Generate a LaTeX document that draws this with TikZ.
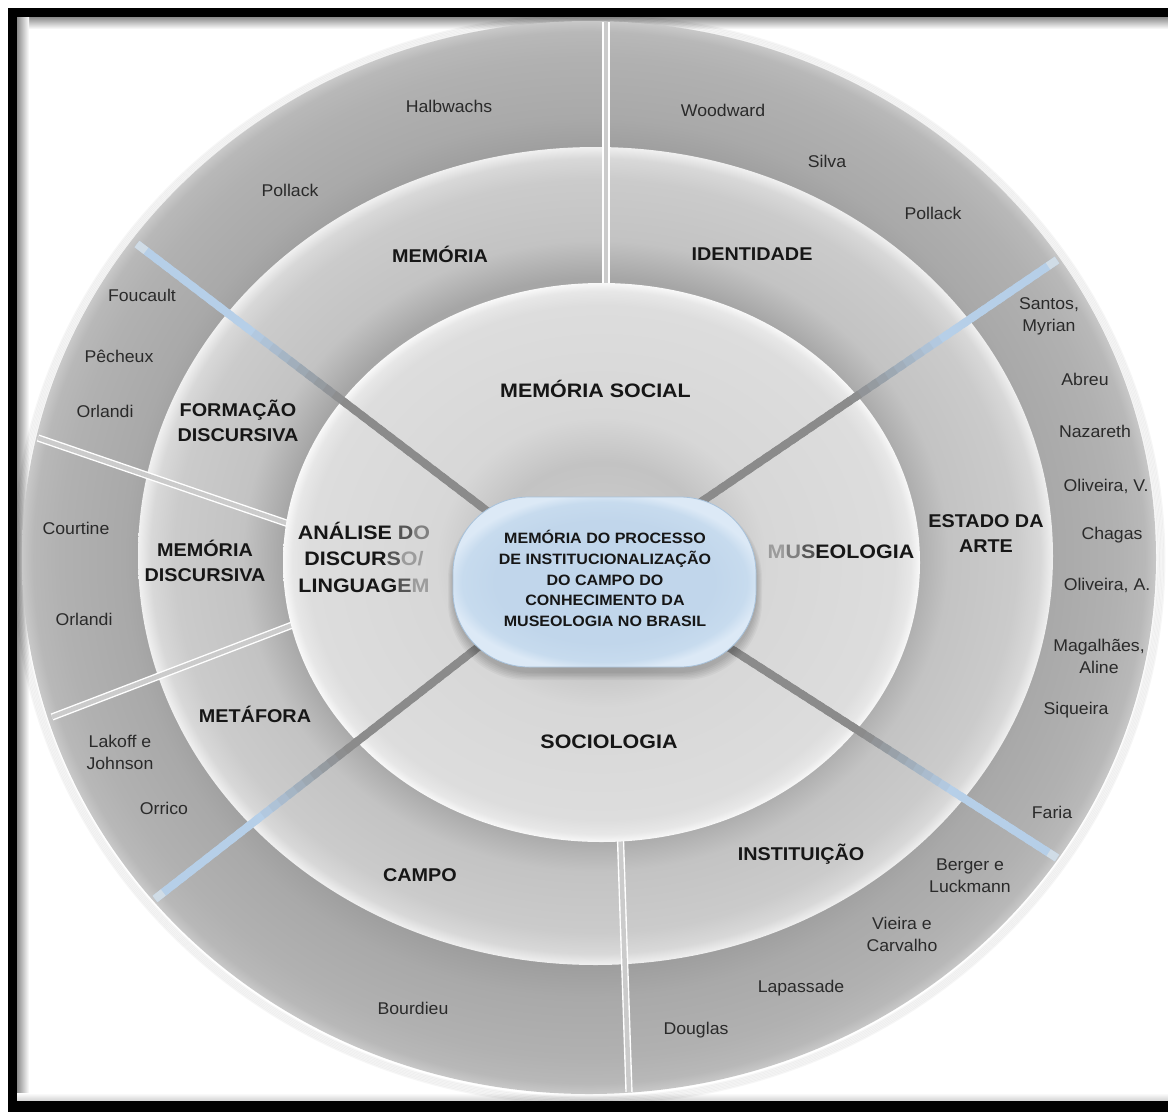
\documentclass[tikz,border=0pt]{standalone}
\usepackage{fontspec}
\setmainfont{Liberation Sans}
\usetikzlibrary{calc}

% text
\definecolor{txt}{HTML}{161616}
\definecolor{nametxt}{HTML}{2A2A2A}
\definecolor{fadeLight}{HTML}{9C9C9C}
\definecolor{fadeMid}{HTML}{808080}
\definecolor{fadeDark}{HTML}{555555}
% outer ring tones
\definecolor{oBase}{HTML}{A3A3A3}
\definecolor{oShadow}{HTML}{969696}
\definecolor{oBody}{HTML}{A9A9A9}
\definecolor{oLight}{HTML}{B1B1B1}
\definecolor{oEdge}{HTML}{B8B8B8}
\definecolor{oRim}{HTML}{C8C8C8}
% middle ring tones
\definecolor{mBase}{HTML}{BDBDBD}
\definecolor{mShadow}{HTML}{A6A6A6}
\definecolor{mBody}{HTML}{C3C3C3}
\definecolor{mLight}{HTML}{CBCBCB}
\definecolor{mEdge}{HTML}{D8D8D8}
\definecolor{mRim}{HTML}{F0F0F0}
% inner disc tones
\definecolor{iBase}{HTML}{CFCFCF}
\definecolor{iShadow}{HTML}{C3C3C3}
\definecolor{iBody}{HTML}{D7D7D7}
\definecolor{iLight}{HTML}{DDDDDD}
\definecolor{iEdge}{HTML}{E7E7E7}
\definecolor{iRim}{HTML}{F8F8F8}
% centre capsule
\definecolor{blobIn}{HTML}{C1D6EB}
\definecolor{blobMid}{HTML}{C7DBEE}
\definecolor{blobOut}{HTML}{DCE9F6}
\definecolor{blobLine}{HTML}{A8C2DB}
% spokes and dividers
\definecolor{barblue}{HTML}{B6CFE8}
\definecolor{bargray}{HTML}{8B8B8B}
\definecolor{barpale}{HTML}{D0DCE6}
\definecolor{divmid}{HTML}{CBCBCB}

\pgfdeclareradialshading{outerring}{\pgfpoint{0bp}{0bp}}{%
  color(0bp)=(oBase); color(18bp)=(oShadow); color(20.5bp)=(oBody);
  color(23.3bp)=(oLight); color(24.5bp)=(oEdge); color(25bp)=(oRim); color(50bp)=(oRim)}
\pgfdeclareradialshading{middlering}{\pgfpoint{0bp}{0bp}}{%
  color(0bp)=(mBase); color(17bp)=(mShadow); color(19.3bp)=(mBody);
  color(23bp)=(mLight); color(24.3bp)=(mEdge); color(25bp)=(mRim); color(50bp)=(mRim)}
\pgfdeclareradialshading{innerdisc}{\pgfpoint{0bp}{0bp}}{%
  color(0bp)=(iBase); color(9bp)=(iShadow); color(13bp)=(iBody);
  color(23bp)=(iLight); color(24.3bp)=(iEdge); color(25bp)=(iRim); color(50bp)=(iRim)}
\pgfdeclareradialshading{coreshade}{\pgfpoint{0bp}{0bp}}{%
  color(0bp)=(blobIn); color(18bp)=(blobIn); color(23.5bp)=(blobMid);
  color(26bp)=(blobOut); color(50bp)=(blobOut)}

\begin{document}
\begin{tikzpicture}[x=1pt,y=-1pt,
  nm/.style={font=\fontsize{17}{22}\selectfont, text=nametxt, xscale=1.04,
    align=center, inner sep=0pt},
  midlab/.style={font=\fontsize{18.5}{25}\selectfont\bfseries, text=txt,
    xscale=1.07, align=center, inner sep=0pt},
  inlab/.style={font=\fontsize{19.5}{26.5}\selectfont\bfseries, text=txt,
    xscale=1.1, align=center, inner sep=0pt},
  coretxt/.style={font=\fontsize{15}{20.7}\selectfont\bfseries, text=txt,
    xscale=1.07, align=center, inner sep=0pt},
  divider/.style={draw=white, line width=1.4pt, double=divmid,
    double distance=4.5pt},
  blob/.style={shade, shading=coreshade, draw=blobLine, line width=0.8pt,
    rounded corners=76pt, minimum width=303pt, minimum height=170pt,
    inner sep=0pt}
]
\useasboundingbox (0,0) rectangle (1168,1112);
\fill[white] (0,0) rectangle (1168,1112);

% soft inner shadow of the frame
\shade[top color=black!45, bottom color=white] (17,17) rectangle (1168,29);
\shade[left color=black!45, right color=white] (17,17) rectangle (29,1101);
\shade[top color=white, bottom color=black!18] (17,1093) rectangle (1168,1101);

% frame on three sides
\fill[black] (8,8) rectangle (1168,17);
\fill[black] (8,8) rectangle (17,1112);
\fill[black] (8,1101) rectangle (1168,1112);

% halo under the whole disc
\foreach \k in {1,...,6}
  \draw[black, opacity=0.035, line width=2pt]
    (589,559.5) ellipse [x radius=567+\k*1.4, y radius=536.5+\k*1.4];

% the three rings
\shade[shading=outerring] (589,557.5) ellipse [x radius=567, y radius=536.5];
\shade[shading=middlering] (595.5,556) ellipse [x radius=457.5, y radius=409];

% sector dividers (double lines)
\coordinate (dTopA) at (606,22);   \coordinate (dTopB) at (606,300);
\coordinate (dBotA) at (620,825);  \coordinate (dBotB) at (629,1092);
\coordinate (dLfA)  at (38,438);   \coordinate (dLfB)  at (292,525);
\coordinate (dLgA)  at (52,717);   \coordinate (dLgB)  at (295,624);
\draw[divider] (dTopA) -- (dTopB);
\draw[divider] (dBotA) -- (dBotB);
\draw[divider] (dLfA) -- (dLfB);
\draw[divider] (dLgA) -- (dLgB);

\shade[shading=innerdisc] (601.5,562.5) ellipse [x radius=318.5, y radius=279.5];

% spokes: pale blue at the rim, grey towards the centre
\coordinate (ulO) at (137,244);  \coordinate (ulI) at (495,517);
\coordinate (urO) at (1057,260); \coordinate (urI) at (698,504);
\coordinate (llO) at (155,899);  \coordinate (llI) at (486,641);
\coordinate (lrO) at (1057,858); \coordinate (lrI) at (722,643);
\foreach \sa/\sb in {ulO/ulI, urO/urI, llO/llI, lrO/lrI}{
  \foreach \k in {0,...,39}{
    \pgfmathsetmacro\ta{\k/40}
    \pgfmathsetmacro\tb{min((\k+1.6)/40,1)}
    \pgfmathsetmacro\pc{max(0,min(100,100*(0.56-\ta)/0.26))}
    \draw[line width=8pt, draw=barblue!\pc!bargray]
      ($(\sa)!\ta!(\sb)$) -- ($(\sa)!\tb!(\sb)$);
  }
  \draw[line width=8pt, draw=barpale] (\sa) -- ($(\sa)!0.025!(\sb)$);
}

% centre capsule with a soft shadow
\foreach \k in {0,...,5}
  \fill[black, opacity=0.035, rounded corners=78pt]
    (453-\k,503-\k*0.4) rectangle (757+\k,673+\k*1.4);
\node[blob] (core) at (604.5,582) {};
\node[coretxt] (coretext) at (605,578.5)
  {MEMÓRIA DO PROCESSO\\DE INSTITUCIONALIZAÇÃO\\DO CAMPO DO\\CONHECIMENTO DA\\MUSEOLOGIA NO BRASIL};

% inner disc labels
\node[inlab] (msoc) at (595.5,389) {MEMÓRIA SOCIAL};
\node[inlab] (adl) at (364,557)
  {ANÁLISE \textcolor{fadeDark}{D}\textcolor{fadeMid}{O}\\DISCUR\textcolor{fadeDark}{S}\textcolor{fadeLight}{O/}\\LINGUAG\textcolor{fadeDark}{E}\textcolor{fadeLight}{M}};
\node[inlab] (museo) at (841,552)
  {\textcolor{fadeLight}{M}\textcolor{fadeMid}{U}\textcolor{fadeDark}{S}EOLOGIA};
\node[inlab] (socio) at (609,742) {SOCIOLOGIA};

% middle ring labels
\node[midlab] (mem) at (440,254) {MEMÓRIA};
\node[midlab] (ident) at (752,254) {IDENTIDADE};
\node[midlab] (fdisc) at (238,421) {FORMAÇÃO\\DISCURSIVA};
\node[midlab] (mdisc) at (205,561) {MEMÓRIA\\DISCURSIVA};
\node[midlab] (metaf) at (255,714) {METÁFORA};
\node[midlab] (campo) at (420,875) {CAMPO};
\node[midlab] (instit) at (801,854) {INSTITUIÇÃO};
\node[midlab] (estado) at (986,534) {ESTADO DA\\ARTE};

% outer ring: authors
\node[nm] (halb) at (449,106) {Halbwachs};
\node[nm] (poll1) at (290,190) {Pollack};
\node[nm] (wood) at (723,110) {Woodward};
\node[nm] (silva) at (827,161) {Silva};
\node[nm] (poll2) at (933,213) {Pollack};
\node[nm] (fouc) at (142,295) {Foucault};
\node[nm] (pech) at (119,356) {Pêcheux};
\node[nm] (orl1) at (105,411) {Orlandi};
\node[nm] (court) at (76,528) {Courtine};
\node[nm] (orl2) at (84,619) {Orlandi};
\node[nm] (lakoff) at (120,752) {Lakoff e\\Johnson};
\node[nm] (orrico) at (164,808) {Orrico};
\node[nm] (bourd) at (413,1008) {Bourdieu};
\node[nm] (doug) at (696,1030) {Douglas};
\node[nm] (lapas) at (801,988) {Lapassade};
\node[nm] (vieira) at (902,934) {Vieira e\\Carvalho};
\node[nm] (berger) at (970,876) {Berger e\\Luckmann};
\node[nm] (faria) at (1052,812) {Faria};
\node[nm] (siq) at (1076,710) {Siqueira};
\node[nm] (magal) at (1099,656) {Magalhães,\\Aline};
\node[nm] (olivA) at (1107,585) {Oliveira, A.};
\node[nm] (chagas) at (1112,535) {Chagas};
\node[nm] (olivV) at (1106,486) {Oliveira, V.};
\node[nm] (naz) at (1095,431) {Nazareth};
\node[nm] (abreu) at (1085,379) {Abreu};
\node[nm] (santos) at (1049,316) {Santos,\\Myrian};
\end{tikzpicture}
\end{document}
